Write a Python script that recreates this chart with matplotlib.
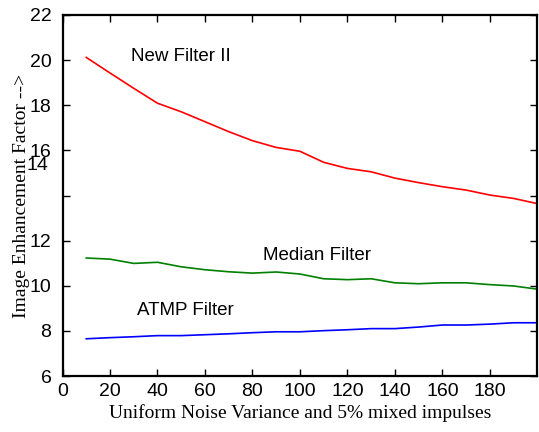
import matplotlib
matplotlib.use("Agg")
import matplotlib.pyplot as plt

# noise variance (x) and enhancement factor of each filter
variance = [10, 20, 30, 40, 50, 60, 70, 80, 90, 100,
            110, 120, 130, 140, 150, 160, 170, 180, 190, 200]
new_filter = [20.12, 19.43, 18.75, 18.09, 17.71, 17.27, 16.83, 16.43, 16.13, 15.96,
              15.47, 15.20, 15.05, 14.77, 14.57, 14.39, 14.24, 14.02, 13.87, 13.64]
median_filter = [11.23, 11.18, 10.99, 11.04, 10.84, 10.71, 10.62, 10.56, 10.61, 10.52,
                 10.31, 10.27, 10.31, 10.13, 10.09, 10.13, 10.13, 10.05, 9.99, 9.85]
atmp_filter = [7.65, 7.70, 7.74, 7.79, 7.79, 7.83, 7.87, 7.92, 7.96, 7.96,
               8.01, 8.05, 8.10, 8.10, 8.17, 8.26, 8.26, 8.30, 8.36, 8.36]

xticks = [0, 20, 40, 60, 80, 100, 120, 140, 160, 180]
yticks = [6, 8, 10, 12, 14, 16, 18, 20, 22]

fig = plt.figure(figsize=(5.39, 4.32), dpi=100)
ax = fig.add_axes([0.116, 0.1296, 0.881, 0.8357])

ax.plot(variance, new_filter, color="#ff0000", lw=1.2)
ax.plot(variance, median_filter, color="#008000", lw=1.2)
ax.plot(variance, atmp_filter, color="#0000ff", lw=1.2)

ax.text(28.8, 20.14, "New Filter II", family="Liberation Sans", fontsize=13.5, va="center")
ax.text(84.4, 11.32, "Median Filter", family="Liberation Sans", fontsize=13.5, va="center")
ax.text(31.4, 8.92, "ATMP Filter", family="Liberation Sans", fontsize=13.5, va="center")

ax.set_xlim(0, 200)
ax.set_ylim(6, 22)
ax.set_xticks(xticks)
ax.set_yticks(yticks)
ax.set_xticklabels([str(t) for t in xticks], family="Liberation Sans", fontsize=14)
# the "14" label sits out of place in the original, just under "16"
ax.set_yticklabels(["" if t == 14 else str(t) for t in yticks],
                   family="Liberation Sans", fontsize=14)
ax.text(-0.03, 15.35, "14", transform=ax.get_yaxis_transform(),
        family="Liberation Sans", fontsize=14, ha="right", va="center")

ax.tick_params(direction="in", length=5, width=1, top=True, right=True)
ax.tick_params(axis="x", pad=5)
ax.tick_params(axis="y", pad=8)
for s in ax.spines.values():
    s.set_linewidth(1.6)

ax.set_xlabel("Uniform Noise Variance and 5% mixed impulses",
              family="Liberation Serif", fontsize=14, labelpad=3)
ax.set_ylabel("Image Enhancement Factor -->",
              family="Liberation Serif", fontsize=14, labelpad=0)

fig.savefig("out.png", dpi=100)
